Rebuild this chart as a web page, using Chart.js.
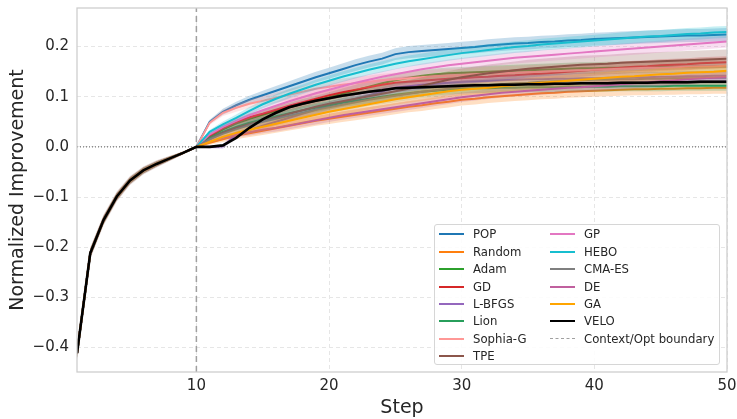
<!DOCTYPE html>
<html>
<head>
<meta charset="utf-8">
<script src="https://cdn.jsdelivr.net/npm/chart.js@4/dist/chart.umd.min.js"></script>
<style>
  html, body { margin: 0; padding: 0; background: #ffffff; }
  #wrap { position: relative; width: 737px; height: 419px; }
  #legend {
    position: absolute; left: 434px; top: 224px; width: 286px; height: 141px;
    box-sizing: border-box; border: 1px solid #d6d6d6; border-radius: 3px;
    background: rgba(255,255,255,0.85);
    font-family: "DejaVu Sans", sans-serif; font-size: 11.7px; color: #262626;
  }
  .item { position: absolute; height: 14px; line-height: 14px; white-space: nowrap; }
  .swatch { position: absolute; top: 6px; width: 25px; height: 0; }
  .label { position: absolute; top: 0; }
</style>
</head>
<body>
<div id="wrap">
  <canvas id="c" width="737" height="419"></canvas>
  <div id="legend"></div>
</div>
<script>
// ---------------- data ----------------
const steps = [1,2,3,4,5,6,7,8,9,10,11,12,13,14,15,16,17,18,19,20,21,22,23,24,25,26,27,28,29,30,31,32,33,34,35,36,37,38,39,40,41,42,43,44,45,46,47,48,49,50];
// shared context phase (steps 1-10)
const context = [-0.412,-0.212,-0.146,-0.099,-0.067,-0.047,-0.034,-0.023,-0.012,0.0];
// optimisation phase (steps 11-50)
const pop     = [0.050,0.070,0.083,0.094,0.103,0.112,0.121,0.130,0.139,0.147,0.155,0.163,0.170,0.176,0.185,0.189,0.191,0.193,0.195,0.197,0.199,0.202,0.204,0.206,0.207,0.209,0.210,0.212,0.213,0.215,0.216,0.217,0.218,0.219,0.220,0.221,0.222,0.222,0.223,0.224];
const random  = [0.008,0.015,0.022,0.027,0.032,0.037,0.042,0.047,0.052,0.056,0.060,0.064,0.068,0.072,0.076,0.080,0.083,0.087,0.090,0.094,0.096,0.099,0.101,0.103,0.105,0.107,0.108,0.110,0.111,0.112,0.113,0.114,0.115,0.115,0.116,0.116,0.117,0.117,0.118,0.118];
const adam    = [0.020,0.035,0.047,0.056,0.064,0.072,0.079,0.086,0.092,0.099,0.106,0.113,0.120,0.127,0.133,0.138,0.142,0.145,0.147,0.148,0.149,0.150,0.151,0.152,0.153,0.154,0.155,0.156,0.157,0.157,0.158,0.158,0.159,0.159,0.160,0.160,0.160,0.161,0.161,0.161];
const gd      = [0.022,0.038,0.050,0.059,0.066,0.074,0.082,0.089,0.096,0.103,0.109,0.114,0.119,0.124,0.128,0.130,0.132,0.134,0.136,0.137,0.139,0.140,0.142,0.143,0.145,0.146,0.148,0.150,0.152,0.154,0.156,0.158,0.160,0.161,0.163,0.164,0.165,0.167,0.168,0.169];
const lbfgs   = [0.000,0.001,0.025,0.034,0.042,0.050,0.058,0.066,0.074,0.082,0.089,0.096,0.103,0.110,0.118,0.121,0.124,0.126,0.128,0.130,0.131,0.132,0.133,0.134,0.135,0.135,0.136,0.136,0.137,0.137,0.138,0.138,0.139,0.139,0.140,0.140,0.141,0.141,0.142,0.142];
const lion    = [0.018,0.030,0.040,0.048,0.055,0.061,0.067,0.073,0.078,0.083,0.088,0.092,0.096,0.100,0.104,0.107,0.110,0.112,0.114,0.116,0.117,0.117,0.118,0.118,0.119,0.119,0.119,0.120,0.120,0.120,0.120,0.121,0.121,0.121,0.121,0.122,0.122,0.122,0.122,0.122];
const sophia  = [0.048,0.068,0.078,0.086,0.092,0.098,0.104,0.110,0.116,0.120,0.124,0.127,0.130,0.133,0.135,0.137,0.139,0.141,0.142,0.143,0.145,0.146,0.147,0.148,0.149,0.150,0.151,0.152,0.153,0.154,0.155,0.156,0.157,0.158,0.158,0.159,0.160,0.161,0.161,0.162];
const tpe     = [0.015,0.028,0.038,0.045,0.051,0.058,0.066,0.073,0.080,0.086,0.091,0.096,0.101,0.106,0.111,0.116,0.122,0.128,0.134,0.139,0.143,0.147,0.150,0.153,0.156,0.158,0.160,0.162,0.164,0.165,0.166,0.168,0.169,0.170,0.171,0.172,0.173,0.174,0.175,0.176];
const gp      = [0.025,0.040,0.052,0.063,0.073,0.082,0.091,0.099,0.107,0.114,0.121,0.128,0.134,0.140,0.145,0.150,0.155,0.159,0.163,0.166,0.169,0.172,0.175,0.178,0.180,0.182,0.184,0.186,0.188,0.190,0.192,0.194,0.196,0.198,0.200,0.202,0.204,0.206,0.208,0.210];
const hebo    = [0.030,0.045,0.058,0.072,0.085,0.096,0.106,0.115,0.124,0.132,0.140,0.147,0.154,0.160,0.166,0.171,0.175,0.179,0.183,0.187,0.190,0.193,0.196,0.199,0.201,0.204,0.206,0.208,0.210,0.212,0.214,0.216,0.218,0.220,0.221,0.223,0.225,0.226,0.228,0.229];
const cmaes   = [0.015,0.026,0.035,0.043,0.050,0.056,0.062,0.068,0.074,0.079,0.084,0.089,0.094,0.098,0.102,0.106,0.110,0.113,0.116,0.119,0.121,0.123,0.125,0.127,0.128,0.130,0.131,0.132,0.133,0.134,0.134,0.135,0.135,0.136,0.136,0.137,0.137,0.137,0.138,0.138];
const de      = [0.010,0.018,0.024,0.029,0.034,0.038,0.043,0.048,0.053,0.058,0.063,0.067,0.071,0.075,0.079,0.083,0.087,0.091,0.095,0.099,0.102,0.105,0.108,0.110,0.112,0.114,0.116,0.118,0.119,0.121,0.123,0.125,0.127,0.129,0.131,0.133,0.135,0.137,0.138,0.140];
const ga      = [0.010,0.020,0.028,0.034,0.040,0.046,0.052,0.058,0.064,0.070,0.075,0.080,0.085,0.090,0.095,0.099,0.103,0.107,0.111,0.114,0.116,0.118,0.121,0.123,0.126,0.128,0.130,0.132,0.134,0.136,0.138,0.140,0.141,0.143,0.145,0.146,0.148,0.149,0.150,0.152];
const velo    = [0.000,0.003,0.018,0.038,0.055,0.068,0.079,0.086,0.092,0.097,0.102,0.106,0.110,0.113,0.117,0.118,0.119,0.120,0.121,0.122,0.123,0.123,0.124,0.124,0.125,0.125,0.126,0.126,0.127,0.127,0.127,0.128,0.128,0.128,0.129,0.129,0.129,0.130,0.130,0.130];

const seriesNames  = ['POP','Random','Adam','GD','L-BFGS','Lion','Sophia-G','TPE','GP','HEBO','CMA-ES','DE','GA','VELO'];
const seriesValues = [pop, random, adam, gd, lbfgs, lion, sophia, tpe, gp, hebo, cmaes, de, ga, velo];
const seriesSpread = [0.013,0.012,0.012,0.012,0.010,0.010,0.014,0.018,0.012,0.012,0.014,0.010,0.012,0.003];
// relative width of the shaded bands over steps
const spreadProfile = [0.7,0.65,0.6,0.55,0.5,0.45,0.4,0.3,0.18,0.0,
  0.3,0.45,0.55,0.62,0.68,0.73,0.77,0.8,0.83,0.85,0.87,0.89,0.9,0.91,0.92,0.93,0.94,0.95,0.95,0.96,
  0.96,0.97,0.97,0.97,0.98,0.98,0.98,0.99,0.99,0.99,0.99,1,1,1,1,1,1,1,1,1];
const seriesColors = ['#1f77b4','#ff7f0e','#2ca02c','#d62728','#9467bd','#279e5b','#ff9896','#8c564b','#e377c2','#17becf','#7f7f7f','#c0609e','#ffa500','#000000'];
const boundaryStep = 10;
const xTicks = [10,20,30,40,50];
const yTicks = [-0.4,-0.3,-0.2,-0.1,0.0,0.1,0.2];
const xMin = 1, xMax = 50, yMin = -0.449, yMax = 0.277;

// ---------------- build ----------------
function hexA(hex, a) {
  const n = parseInt(hex.slice(1), 16);
  return `rgba(${(n>>16)&255},${(n>>8)&255},${n&255},${a})`;
}
const datasets = [];
datasets.push({ label: '_zero', data: [{x: xMin, y: 0}, {x: xMax, y: 0}], borderColor: '#555555', borderWidth: 1, borderDash: [1, 2], pointRadius: 0, fill: false });
datasets.push({ label: 'Context/Opt boundary', data: [{x: boundaryStep, y: yMin}, {x: boundaryStep, y: yMax}], borderColor: '#a0a0a0', borderWidth: 1.5, borderDash: [6, 4], pointRadius: 0, fill: false });

seriesNames.forEach((name, i) => {
  const vals = context.concat(seriesValues[i]);
  const lo = vals.map((v, k) => ({x: steps[k], y: v - seriesSpread[i] * spreadProfile[k]}));
  const hi = vals.map((v, k) => ({x: steps[k], y: v + seriesSpread[i] * spreadProfile[k]}));
  datasets.push({ label: '_lo' + name, data: lo, borderWidth: 0, pointRadius: 0, fill: false, borderColor: 'rgba(0,0,0,0)' });
  datasets.push({ label: '_hi' + name, data: hi, borderWidth: 0, pointRadius: 0, fill: '-1', borderColor: 'rgba(0,0,0,0)', backgroundColor: hexA(seriesColors[i], 0.25) });
  datasets.push({ label: name, data: vals.map((v, k) => ({x: steps[k], y: v})), borderColor: seriesColors[i], borderWidth: name === 'VELO' ? 2.6 : 2, pointRadius: 0, fill: false, tension: 0 });
});
datasets.forEach((d, idx) => { d.order = datasets.length - idx; });

const frame = {
  id: 'frame',
  afterDraw(chart) {
    const a = chart.chartArea, ctx = chart.ctx;
    ctx.save();
    ctx.strokeStyle = '#cccccc';
    ctx.lineWidth = 1.25;
    ctx.strokeRect(a.left, a.top, a.right - a.left, a.bottom - a.top);
    ctx.restore();
  }
};

const tickFont = { family: 'DejaVu Sans', size: 15 };
new Chart(document.getElementById('c'), {
  type: 'line',
  data: { datasets },
  options: {
    responsive: false,
    animation: false,
    devicePixelRatio: 1,
    layout: { padding: { left: 0, right: 10, top: 8, bottom: 0 } },
    plugins: { legend: { display: false }, tooltip: { enabled: false } },
    scales: {
      x: {
        type: 'linear', min: xMin, max: xMax,
        afterBuildTicks: s => { s.ticks = xTicks.map(v => ({value: v})); },
        afterFit: s => { s.height = 47; s.paddingLeft = 0; s.paddingRight = 0; },
        grid: { color: '#e6e6e6', drawTicks: false, lineWidth: 1 },
        border: { display: false, dash: [4, 3] },
        ticks: { font: tickFont, color: '#262626', padding: 5, maxRotation: 0, callback: v => String(v) },
        title: { display: true, text: 'Step', font: { family: 'DejaVu Sans', size: 19 }, color: '#262626', padding: { top: 0, bottom: 0 } }
      },
      y: {
        type: 'linear', min: yMin, max: yMax,
        afterBuildTicks: s => { s.ticks = yTicks.map(v => ({value: v})); },
        afterFit: s => { s.width = 77; s.paddingTop = 0; s.paddingBottom = 0; },
        grid: { color: '#e6e6e6', drawTicks: false, lineWidth: 1 },
        border: { display: false, dash: [4, 3] },
        ticks: { font: tickFont, color: '#262626', padding: 8, callback: v => v.toFixed(1).replace('-', '\u2212') },
        title: { display: true, text: 'Normalized Improvement', font: { family: 'DejaVu Sans', size: 19 }, color: '#262626', padding: { top: 7, bottom: 0 } }
      }
    }
  },
  plugins: [frame]
});

// ---------------- legend ----------------
const legendItems = seriesNames.map((n, i) => ({ name: n, color: seriesColors[i], dashed: false }));
legendItems.push({ name: 'Context/Opt boundary', color: '#a0a0a0', dashed: true });
const leg = document.getElementById('legend');
legendItems.forEach((it, i) => {
  const col = i < 8 ? 0 : 1;
  const row = i < 8 ? i : i - 8;
  const el = document.createElement('div');
  el.className = 'item';
  el.style.left = (col === 0 ? 4 : 115) + 'px';
  el.style.top = (2.4 + row * 17.4) + 'px';
  const sw = document.createElement('div');
  sw.className = 'swatch';
  sw.style.left = '0px';
  sw.style.borderTop = it.dashed ? `1.5px dashed ${it.color}` : `2px solid ${it.color}`;
  const lb = document.createElement('span');
  lb.className = 'label';
  lb.style.left = '34px';
  lb.textContent = it.name;
  el.appendChild(sw); el.appendChild(lb);
  leg.appendChild(el);
});
</script>
</body>
</html>
